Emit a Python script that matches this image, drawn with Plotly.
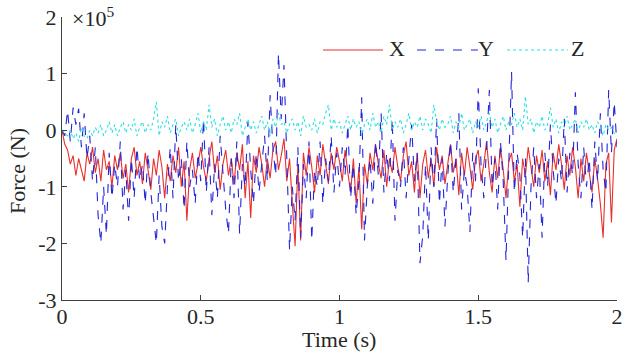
import numpy as np
import plotly.graph_objects as go

# time samples (s)
time_s = [round(i * 0.01, 2) for i in range(201)]

# Force values in units of 1e5 N
force_x = [
    0.0, -0.25, -0.35, -0.6, -0.45, -0.8, -0.5, -0.7, -0.9, -0.4,
    -0.6, -0.3, -0.75, -0.5, -0.9, -0.35, -0.7, -0.55, -1.0, -0.45,
    -0.7, -0.4, -0.85, -0.6, -1.1, -0.5, -0.3, -0.8, -0.55, -0.95,
    -0.4, -0.7, -1.05, -0.5, -0.8, -0.35, -0.65, -1.2, -0.6, -0.9,
    -0.45, -0.75, -0.3, -1.0, -0.55, -1.6, -0.7, -0.4, -0.85, -0.6,
    -0.3, -0.65, -0.9, -0.5, -0.2, -0.75, -0.45, -1.05, -0.6, -0.35,
    -0.8, -0.5, -0.95, -0.4, -0.7, -0.25, -1.2, -0.55, -1.55, -0.45,
    -0.75, -0.3, -0.6, -1.0, -0.5, -0.85, -0.35, -0.2, -0.7, -0.45,
    -0.15, -0.9, -0.5, -1.3, -2.05, -0.6, -1.95, -0.4, -0.8, -0.3,
    -0.65, -1.1, -0.45, -0.8, -0.25, -0.6, -0.95, -0.4, -0.7, -0.3,
    -0.55, -0.9, -0.35, -0.75, -1.1, -0.5, -1.3, -0.65, -1.75, -0.6,
    -0.95, -0.4, -0.7, -0.25, -0.6, -0.85, -0.35, -1.0, -0.5, -0.75,
    -0.3, -0.65, -0.9, -0.45, -0.2, -0.8, -0.55, -1.1, -0.4, -1.2,
    -0.6, -0.35, -0.85, -0.5, -1.0, -0.3, -0.7, -0.45, -0.95, -0.6,
    -0.25, -0.75, -0.5, -1.15, -0.4, -0.8, -0.3, -0.65, -1.05, -0.5,
    -0.35, -0.9, -0.6, -0.2, -0.75, -1.1, -0.45, -0.85, -0.3, -0.7,
    -1.2, -0.55, -0.4, -0.9, -0.6, -1.35, -0.5, -0.8, -0.3, -0.65,
    -1.0, -0.45, -0.75, -0.35, -0.9, -0.55, -1.15, -0.4, -0.7, -0.25,
    -0.6, -1.05, -0.45, -0.8, -0.3, -0.65, -1.2, -0.5, -0.9, -0.4,
    -0.75, -1.1, -0.5, -0.85, -1.3, -1.9, -0.6, -0.4, -1.63, -0.35,
    -0.15,
]

force_y = [
    0.0, -0.1, 0.35, -0.2, 0.4, 0.1, 0.38, -0.3, 0.3, -0.5,
    -0.1, -0.9, -0.3, -1.5, -2.0, -1.0, -1.85, -0.4, -1.2, -0.6,
    -1.0, -0.2, -1.4, -0.7, -1.6, -0.5, -1.2, -0.3, -0.9, -0.6,
    -1.3, -0.4, -1.1, -1.5, -2.0, -0.8, -1.7, -2.0, -1.0, -0.3,
    -1.2, 0.1, -0.9, -0.5, -1.4, -0.2, -1.0, -0.7, -1.3, -0.4,
    -0.9, 0.2, -1.1, -0.3, -1.5, -0.6, -1.2, -0.1, -0.8, -1.4,
    -1.83, -0.5, -1.2, -0.2, -1.83, -0.6, -1.0, 0.15, -0.7, -1.3,
    -0.4, -1.1, -0.6, -0.1, -0.9, 0.62, -0.3, -0.8, 1.36, 0.2,
    1.15, -0.5, -2.12, -1.0, -1.6, -0.3, -1.9, -0.6, -1.2, -0.2,
    -1.95, -0.7, -1.0, -0.2, -1.3, -0.5, -0.9, -0.1, -1.1, -0.4,
    -1.0, -0.3, -0.8, 0.1, -1.2, -0.6, -1.5, -0.9, 0.58, -1.95,
    -1.0, -0.5, -1.3, -0.2, -0.8, 0.3, -1.1, -0.4, -0.9, 0.2,
    -1.6, -0.7, -1.0, -0.3, -1.2, -0.5, 0.1, -0.9, -0.4, -2.35,
    -1.86, -0.6, -1.95, -0.3, -1.0, 0.2, -1.3, -0.5, -1.7, -0.8,
    -0.2, -1.1, -0.5, 0.3, -1.4, -0.7, -1.0, -1.8, -0.4, -0.9,
    0.74, -0.6, -1.2, -0.3, 0.71, -1.0, -0.5, -1.4, -0.2, -0.9,
    -2.3, -0.6, 1.03, -1.1, -0.4, -0.8, -1.9, -0.5, -2.7, -1.0,
    -0.3, -1.2, -0.6, -1.9, -0.4, -1.0, 0.1, -0.7, -1.3, -0.5,
    -0.9, 0.2, -1.1, -0.4, -0.8, 0.67, -0.6, -1.2, -0.3, -1.0,
    -0.5, -1.4, -0.2, -0.9, 0.3, -0.7, -1.1, 0.71, -0.4, 0.5,
    -0.3,
]

force_z = [
    0.0, -0.05, -0.1, 0.0, -0.15, -0.05, -0.2, 0.05, -0.1, -0.15,
    0.0, -0.1, 0.05, -0.05, 0.1, -0.1, 0.0, 0.15, -0.05, 0.1,
    -0.1, 0.05, 0.15, -0.05, 0.1, 0.0, 0.2, -0.1, 0.05, 0.15,
    -0.05, 0.1, 0.0, 0.2, 0.5, -0.1, 0.15, 0.05, 0.25, -0.05,
    0.1, 0.2, -0.1, 0.05, 0.15, 0.0, 0.2, -0.05, 0.1, 0.3,
    -0.05, 0.15, 0.0, 0.45, 0.05, 0.2, -0.1, 0.1, 0.25, 0.0,
    0.15, -0.05, 0.2, 0.1, 0.3, -0.1, 0.05, 0.2, 0.0, 0.15,
    -0.05, 0.1, 0.25, 0.0, 0.15, -0.1, 0.2, 0.05, 0.3, 0.1,
    0.15, -0.05, 0.1, 0.2, 0.0, 0.15, -0.1, 0.25, 0.05, 0.1,
    0.0, 0.2, -0.05, 0.15, 0.1, 0.3, 0.45, 0.0, 0.2, 0.05,
    0.15, -0.05, 0.1, 0.25, 0.0, 0.2, 0.05, 0.15, -0.1, 0.1,
    0.2, 0.0, 0.3, 0.05, 0.15, -0.05, 0.25, 0.1, 0.45, 0.0,
    0.15, 0.05, 0.2, -0.05, 0.1, 0.3, 0.0, 0.15, 0.05, 0.25,
    0.0, 0.2, 0.1, -0.05, 0.45, 0.15, 0.0, 0.2, 0.05, 0.1,
    0.25, -0.05, 0.15, 0.05, 0.3, 0.0, 0.1, 0.2, -0.05, 0.15,
    0.05, 0.25, 0.0, 0.15, 0.3, 0.05, 0.2, -0.05, 0.1, 0.25,
    0.0, 0.15, 0.1, 0.3, 0.05, 0.2, 0.0, 0.6, 0.1, 0.2,
    -0.05, 0.15, 0.05, 0.25, 0.0, 0.1, 0.4, 0.05, 0.2, -0.05,
    0.15, 0.05, 0.25, 0.0, 0.1, 0.2, -0.05, 0.15, 0.05, 0.2,
    0.0, 0.1, -0.05, 0.15, 0.05, -0.1, 0.1, 0.0, 0.05, -0.05,
    -0.1,
]

series_names = ["X", "Y", "Z"]
series_colors = ["#e8302c", "#2424d8", "#2ee0e0"]
series_dash = ["solid", "dash", "dot"]
y_ticks = [-3, -2, -1, 0, 1, 2]
y_tick_labels = ["-3", "-2", "-1", "0", "1", "2"]
x_ticks = [0, 0.5, 1, 1.5, 2]
x_tick_labels = ["0", "0.5", "1", "1.5", "2"]

FONT = "Liberation Serif"
FS = 22
TXT = "#262626"
AX = "#404040"

fig = go.Figure()
for name, vals, col, dash in zip(series_names, [force_x, force_y, force_z], series_colors, series_dash):
    fig.add_trace(go.Scatter(x=time_s, y=vals, mode="lines", name=name,
                             line=dict(color=col, width=1.1, dash=dash)))

fig.update_layout(
    width=629, height=353,
    margin=dict(l=62, r=12, t=17, b=53, autoexpand=False),
    paper_bgcolor="white", plot_bgcolor="white",
    font=dict(family=FONT, size=FS, color=TXT),
    showlegend=False,
    xaxis=dict(range=[0, 2], tickvals=x_ticks, ticktext=x_tick_labels, automargin=False,
               showline=True, linecolor=AX, linewidth=1, mirror=False,
               ticks="inside", ticklen=5, tickcolor=AX, showgrid=False, zeroline=False,
               ticklabelstandoff=-3,
               tickfont=dict(size=FS, family=FONT, color=TXT)),
    yaxis=dict(range=[-3, 2], tickvals=y_ticks, ticktext=y_tick_labels, automargin=False,
               showline=True, linecolor=AX, linewidth=1, mirror=False,
               ticks="inside", ticklen=5, tickcolor=AX, showgrid=False, zeroline=False,
               tickfont=dict(size=FS, family=FONT, color=TXT)),
)

# legend drawn as key lines + labels (paper coordinates)
leg_y = 0.8834
leg_lines = [(0.4703, 0.5784), (0.6396, 0.7495), (0.8018, 0.9117)]
leg_text_x = [0.6036, 0.7640, 0.9297]
for name, col, dash, (lx0, lx1), tx in zip(series_names, series_colors, series_dash, leg_lines, leg_text_x):
    fig.add_shape(type="line", xref="paper", yref="paper", x0=lx0, x1=lx1, y0=leg_y, y1=leg_y,
                  line=dict(color=col, width=1.1, dash=dash))
    fig.add_annotation(xref="paper", yref="paper", x=tx, y=leg_y, xanchor="center", yanchor="middle",
                       yshift=1, showarrow=False, text=name,
                       font=dict(size=FS, family=FONT, color=TXT))

# axis titles
fig.add_annotation(xref="paper", yref="paper", x=0.499, y=-0.138, xanchor="center", yanchor="middle",
                   showarrow=False, text="Time (s)", font=dict(size=FS, family=FONT, color=TXT))
fig.add_annotation(xref="paper", yref="paper", x=-0.079, y=0.456, xanchor="center", yanchor="middle",
                   showarrow=False, text="Force (N)", textangle=-90,
                   font=dict(size=FS, family=FONT, color=TXT))
# exponent label
fig.add_annotation(xref="paper", yref="paper", x=0.0, y=1.0, xanchor="left", yanchor="middle",
                   xshift=8, yshift=0, showarrow=False,
                   text="×10<sup>5</sup>", font=dict(size=FS, family=FONT, color=TXT))

fig.write_html("out.html", config={"displayModeBar": False},
               post_script="document.body.style.margin='0';document.body.style.padding='0';")
